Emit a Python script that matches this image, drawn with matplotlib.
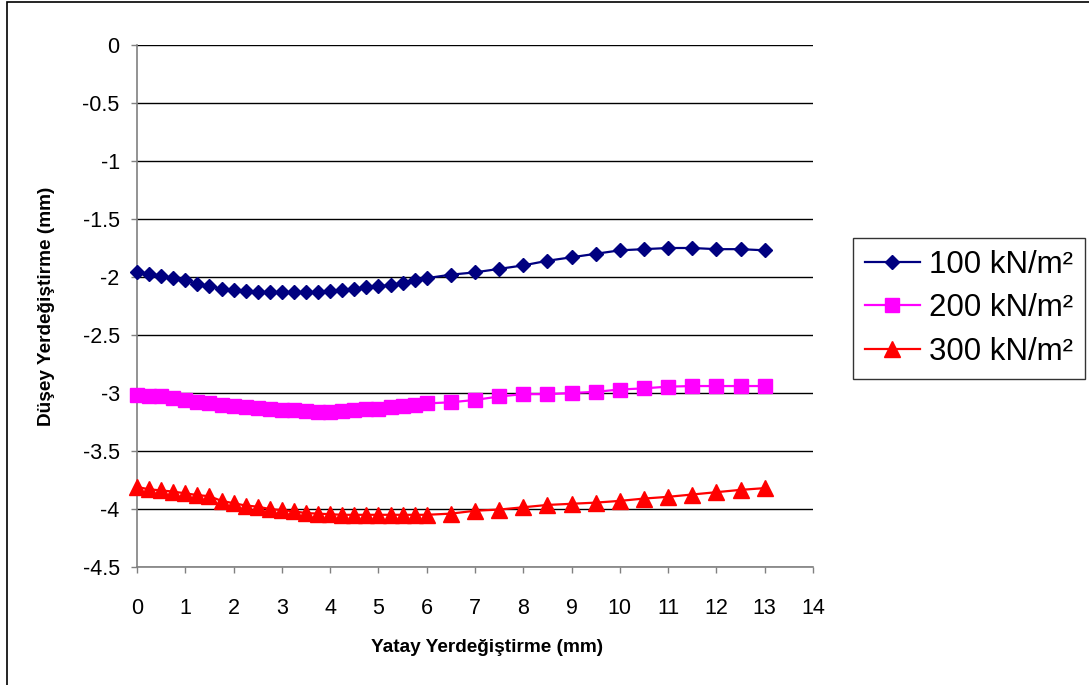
import matplotlib
matplotlib.use("Agg")
from matplotlib import pyplot as plt
from matplotlib.patches import Rectangle

plt.rcParams['font.family'] = ['Liberation Sans', 'DejaVu Sans']
plt.rcParams['axes.unicode_minus'] = False

# Yatay yerdegistirme (mm)
x_vals = [0, 0.25, 0.5, 0.75, 1.0, 1.25, 1.5, 1.75, 2.0, 2.25, 2.5, 2.75, 3.0,
          3.25, 3.5, 3.75, 4.0, 4.25, 4.5, 4.75, 5.0, 5.25, 5.5, 5.75, 6.0,
          6.5, 7.0, 7.5, 8.0, 8.5, 9.0, 9.5, 10.0, 10.5, 11.0, 11.5, 12.0, 12.5, 13.0]

# Dusey yerdegistirme (mm) for each load
load_100 = [-1.96, -1.97, -1.99, -2.01, -2.03, -2.06, -2.08, -2.10, -2.11, -2.12,
            -2.13, -2.13, -2.13, -2.13, -2.13, -2.13, -2.12, -2.11, -2.10, -2.09,
            -2.08, -2.07, -2.05, -2.03, -2.01,
            -1.98, -1.96, -1.93, -1.90, -1.86, -1.83, -1.80, -1.77, -1.76, -1.75,
            -1.75, -1.76, -1.76, -1.77]
load_200 = [-3.02, -3.025, -3.03, -3.04, -3.06, -3.075, -3.09, -3.10, -3.11, -3.12,
            -3.13, -3.14, -3.145, -3.15, -3.155, -3.16, -3.16, -3.155, -3.15, -3.14,
            -3.135, -3.12, -3.11, -3.10, -3.09,
            -3.08, -3.06, -3.03, -3.01, -3.01, -3.00, -2.99, -2.97, -2.96, -2.945,
            -2.94, -2.94, -2.94, -2.94]
load_300 = [-3.81, -3.83, -3.84, -3.85, -3.865, -3.88, -3.89, -3.93, -3.95, -3.97,
            -3.98, -4.00, -4.01, -4.02, -4.035, -4.04, -4.045, -4.05, -4.05, -4.05,
            -4.05, -4.05, -4.05, -4.05, -4.05,
            -4.04, -4.015, -4.005, -3.985, -3.965, -3.955, -3.945, -3.93, -3.91, -3.895,
            -3.875, -3.855, -3.835, -3.82]

labels = ["100 kN/m²", "200 kN/m²", "300 kN/m²"]
x_ticks = list(range(0, 15))
y_ticks = [0, -0.5, -1, -1.5, -2, -2.5, -3, -3.5, -4, -4.5]
y_tick_labels = ["0", "-0.5", "-1", "-1.5", "-2", "-2.5", "-3", "-3.5", "-4", "-4.5"]

W, H = 1089, 685
fig = plt.figure(figsize=(W / 100, H / 100), dpi=100)
ax = fig.add_axes([137 / W, 1 - 567 / H, (813 - 137) / W, (567 - 45) / H])

ax.plot(x_vals, load_100, color="#000080", lw=1.6, marker="D", ms=7, label=labels[0],
        clip_on=False, zorder=3)
ax.plot(x_vals, load_200, color="#FF00FF", lw=1.6, marker="s", ms=10.5, label=labels[1],
        clip_on=False, zorder=3)
ax.plot(x_vals, load_300, color="#FF0000", lw=1.6, marker="^", ms=11, label=labels[2],
        clip_on=False, zorder=3)

ax.set_xlim(0, 14)
ax.set_ylim(-4.5, 0)
ax.set_xticks(x_ticks)
ax.set_yticks(y_ticks)
ax.set_yticklabels(y_tick_labels)
ax.tick_params(axis="both", labelsize=15.5, color="#808080", length=4.5, width=1)
ax.tick_params(axis="x", pad=18)
ax.tick_params(axis="y", pad=8)

ax.grid(axis="y", color="black", lw=1)
ax.set_axisbelow(True)
for side in ["top", "right"]:
    ax.spines[side].set_visible(False)
for side in ["left", "bottom"]:
    ax.spines[side].set_color("#808080")
    ax.spines[side].set_linewidth(1.2)

fig.text(487 / W, 1 - 647 / H, "Yatay Yerdeğiştirme (mm)", ha="center", va="center",
         fontsize=13.7, fontweight="bold")
fig.text(47 / W, 1 - 306 / H, "Düşey Yerdeğiştirme (mm)", ha="center", va="center",
         rotation=90, fontsize=13.7, fontweight="bold")

leg = ax.legend(loc="upper left", bbox_to_anchor=(853 / W, 1 - 238 / H),
                bbox_transform=fig.transFigure, fontsize=22.5, frameon=True,
                fancybox=False, edgecolor="black", handlelength=1.75,
                handletextpad=0.3, borderpad=0.38, labelspacing=0.43,
                borderaxespad=0)
leg.get_frame().set_linewidth(1)

# frame around the whole chart
fig.patches.append(Rectangle((7 / W, -0.1), 1.2, 1 - 2 / H + 0.1, transform=fig.transFigure,
                             fill=False, edgecolor="black", lw=1.2))

fig.savefig("out.png", dpi=100)
